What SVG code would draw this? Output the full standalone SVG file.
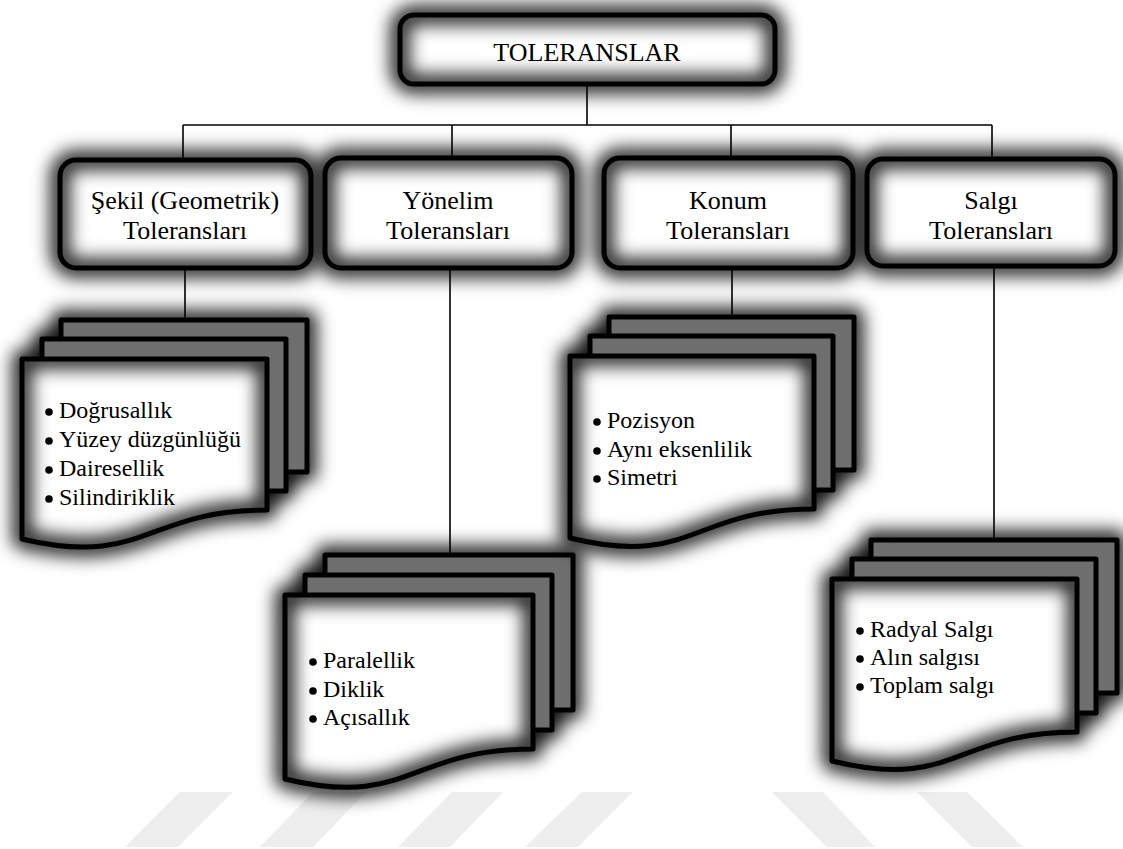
<svg xmlns="http://www.w3.org/2000/svg" xmlns:xlink="http://www.w3.org/1999/xlink" width="1123" height="849" viewBox="0 0 1123 849">
  <style>
    .bg { fill: #ffffff; }
    .mark { fill: #eeeeee; }
    .edge { fill: none; stroke: #000; stroke-width: 1.6; }
    .paper { fill: #ffffff; }
    .sheet { fill: #6e6e6e; }
    .glow { fill: none; stroke: #000; stroke-opacity: 0.85; stroke-width: 20; stroke-linejoin: round; filter: url(#soft); }
    .line { fill: none; stroke: #000; stroke-width: 5; stroke-linejoin: round; }
    .dot { fill: #000; }
    .label { font-family: "Liberation Serif", "Times New Roman", serif; font-size: 26px; text-anchor: middle; fill: #000; }
    .item { font-family: "Liberation Serif", "Times New Roman", serif; font-size: 24px; fill: #000; }
  </style>
  <defs>
    <filter id="soft" filterUnits="userSpaceOnUse" x="0" y="0" width="1123" height="849">
      <feGaussianBlur stdDeviation="8.5"/>
    </filter>

    <!-- rounded boxes -->
    <rect id="b-root" x="400" y="15" width="375" height="69" rx="14"/>
    <rect id="b-sekil" x="60" y="160" width="251" height="108" rx="16"/>
    <rect id="b-yon" x="325" y="158" width="247" height="110" rx="16"/>
    <rect id="b-konum" x="604" y="158" width="249" height="110" rx="16"/>
    <rect id="b-salgi" x="867" y="159" width="248" height="107" rx="16"/>

    <!-- multi-document stacks: back, middle, front sheet -->
    <path id="s1-back" d="M61,320 H307 V472 H61 Z"/>
    <path id="s1-mid" d="M42,339 H286 V491 H42 Z"/>
    <path id="s1-front" d="M22,359 H267 V510 C145,510 145,568 22,539 Z"/>

    <path id="s2-back" d="M325,555 H573 V710 H325 Z"/>
    <path id="s2-mid" d="M305,575 H552 V730 H305 Z"/>
    <path id="s2-front" d="M285,595 H533 V749 C409,749 409,809 285,779 Z"/>

    <path id="s3-back" d="M609,317 H854 V470 H609 Z"/>
    <path id="s3-mid" d="M590,336 H833 V490 H590 Z"/>
    <path id="s3-front" d="M570,356 H814 V509 C692,509 692,568 570,538 Z"/>

    <path id="s4-back" d="M871,540 H1117 V693 H871 Z"/>
    <path id="s4-mid" d="M852,559 H1096 V713 H852 Z"/>
    <path id="s4-front" d="M832,579 H1077 V732 C955,732 955,791 832,761 Z"/>

    <clipPath id="c1"><use xlink:href="#s1-front"/></clipPath>
    <clipPath id="c2"><use xlink:href="#s2-front"/></clipPath>
    <clipPath id="c3"><use xlink:href="#s3-front"/></clipPath>
    <clipPath id="c4"><use xlink:href="#s4-front"/></clipPath>
  </defs>

  <rect class="bg" x="0" y="0" width="1123" height="849"/>

  <!-- faint diagonal stripes along the bottom edge -->
  <g id="stripes">
    <polygon class="mark" points="180,792 233,792 178,847 125,847"/>
    <polygon class="mark" points="313,792 366,792 313,847 260,847"/>
    <polygon class="mark" points="452,792 503,792 450,847 398,847"/>
    <polygon class="mark" points="582,792 633,792 578,847 525,847"/>
    <polygon class="mark" points="772,792 823,792 875,847 827,847"/>
    <polygon class="mark" points="917,792 967,792 1023,847 972,847"/>
  </g>

  <!-- root -->
  <g id="root">
    <use xlink:href="#b-root" class="paper"/>
    <use xlink:href="#b-root" class="glow"/>
    <use xlink:href="#b-root" class="line"/>
    <text class="label" x="587" y="61">TOLERANSLAR</text>
  </g>

  <!-- category boxes -->
  <g id="sekil">
    <use xlink:href="#b-sekil" class="paper"/>
    <use xlink:href="#b-sekil" class="glow"/>
    <use xlink:href="#b-sekil" class="line"/>
    <text class="label" x="185" y="209">Şekil (Geometrik)</text>
    <text class="label" x="185" y="239">Toleransları</text>
  </g>
  <g id="yonelim">
    <use xlink:href="#b-yon" class="paper"/>
    <use xlink:href="#b-yon" class="glow"/>
    <use xlink:href="#b-yon" class="line"/>
    <text class="label" x="448" y="209">Yönelim</text>
    <text class="label" x="448" y="239">Toleransları</text>
  </g>
  <g id="konum">
    <use xlink:href="#b-konum" class="paper"/>
    <use xlink:href="#b-konum" class="glow"/>
    <use xlink:href="#b-konum" class="line"/>
    <text class="label" x="728" y="209">Konum</text>
    <text class="label" x="728" y="239">Toleransları</text>
  </g>
  <g id="salgi">
    <use xlink:href="#b-salgi" class="paper"/>
    <use xlink:href="#b-salgi" class="glow"/>
    <use xlink:href="#b-salgi" class="line"/>
    <text class="label" x="991" y="209">Salgı</text>
    <text class="label" x="991" y="239">Toleransları</text>
  </g>

  <!-- document stacks: outer glow first, then sheets, then the front page with its inner glow -->
  <g id="list-sekil">
    <use xlink:href="#s1-back" class="glow"/>
    <use xlink:href="#s1-mid" class="glow"/>
    <use xlink:href="#s1-front" class="glow"/>
    <use xlink:href="#s1-back" class="sheet"/>
    <use xlink:href="#s1-back" class="line"/>
    <use xlink:href="#s1-mid" class="sheet"/>
    <use xlink:href="#s1-mid" class="line"/>
    <use xlink:href="#s1-front" class="paper"/>
    <g clip-path="url(#c1)"><use xlink:href="#s1-front" class="glow"/></g>
    <use xlink:href="#s1-front" class="line"/>
    <circle class="dot" cx="49" cy="412" r="3.8"/>
    <circle class="dot" cx="49" cy="441" r="3.8"/>
    <circle class="dot" cx="49" cy="470" r="3.8"/>
    <circle class="dot" cx="49" cy="499" r="3.8"/>
    <text class="item" x="59" y="418">Doğrusallık</text>
    <text class="item" x="59" y="447">Yüzey düzgünlüğü</text>
    <text class="item" x="59" y="476">Dairesellik</text>
    <text class="item" x="59" y="505">Silindiriklik</text>
  </g>

  <g id="list-yonelim">
    <use xlink:href="#s2-back" class="glow"/>
    <use xlink:href="#s2-mid" class="glow"/>
    <use xlink:href="#s2-front" class="glow"/>
    <use xlink:href="#s2-back" class="sheet"/>
    <use xlink:href="#s2-back" class="line"/>
    <use xlink:href="#s2-mid" class="sheet"/>
    <use xlink:href="#s2-mid" class="line"/>
    <use xlink:href="#s2-front" class="paper"/>
    <g clip-path="url(#c2)"><use xlink:href="#s2-front" class="glow"/></g>
    <use xlink:href="#s2-front" class="line"/>
    <circle class="dot" cx="313" cy="662" r="3.8"/>
    <circle class="dot" cx="313" cy="691" r="3.8"/>
    <circle class="dot" cx="313" cy="719" r="3.8"/>
    <text class="item" x="323" y="668">Paralellik</text>
    <text class="item" x="323" y="697">Diklik</text>
    <text class="item" x="323" y="725">Açısallık</text>
  </g>

  <g id="list-konum">
    <use xlink:href="#s3-back" class="glow"/>
    <use xlink:href="#s3-mid" class="glow"/>
    <use xlink:href="#s3-front" class="glow"/>
    <use xlink:href="#s3-back" class="sheet"/>
    <use xlink:href="#s3-back" class="line"/>
    <use xlink:href="#s3-mid" class="sheet"/>
    <use xlink:href="#s3-mid" class="line"/>
    <use xlink:href="#s3-front" class="paper"/>
    <g clip-path="url(#c3)"><use xlink:href="#s3-front" class="glow"/></g>
    <use xlink:href="#s3-front" class="line"/>
    <circle class="dot" cx="597" cy="422" r="3.8"/>
    <circle class="dot" cx="597" cy="451" r="3.8"/>
    <circle class="dot" cx="597" cy="479" r="3.8"/>
    <text class="item" x="607" y="428">Pozisyon</text>
    <text class="item" x="607" y="457">Aynı eksenlilik</text>
    <text class="item" x="607" y="485">Simetri</text>
  </g>

  <g id="list-salgi">
    <use xlink:href="#s4-back" class="glow"/>
    <use xlink:href="#s4-mid" class="glow"/>
    <use xlink:href="#s4-front" class="glow"/>
    <use xlink:href="#s4-back" class="sheet"/>
    <use xlink:href="#s4-back" class="line"/>
    <use xlink:href="#s4-mid" class="sheet"/>
    <use xlink:href="#s4-mid" class="line"/>
    <use xlink:href="#s4-front" class="paper"/>
    <g clip-path="url(#c4)"><use xlink:href="#s4-front" class="glow"/></g>
    <use xlink:href="#s4-front" class="line"/>
    <circle class="dot" cx="860" cy="631" r="3.8"/>
    <circle class="dot" cx="860" cy="659" r="3.8"/>
    <circle class="dot" cx="860" cy="687" r="3.8"/>
    <text class="item" x="870" y="637">Radyal Salgı</text>
    <text class="item" x="870" y="665">Alın salgısı</text>
    <text class="item" x="870" y="693">Toplam salgı</text>
  </g>

  <!-- connectors -->
  <g id="connectors">
    <path class="edge" d="M587,86 V125"/>
    <path class="edge" d="M183,125 H992"/>
    <path class="edge" d="M183,125 V158"/>
    <path class="edge" d="M452,125 V156"/>
    <path class="edge" d="M731,125 V156"/>
    <path class="edge" d="M992,125 V157"/>
    <path class="edge" d="M185,270 V318"/>
    <path class="edge" d="M450,270 V553"/>
    <path class="edge" d="M732,270 V315"/>
    <path class="edge" d="M994,268 V538"/>
  </g>
</svg>
